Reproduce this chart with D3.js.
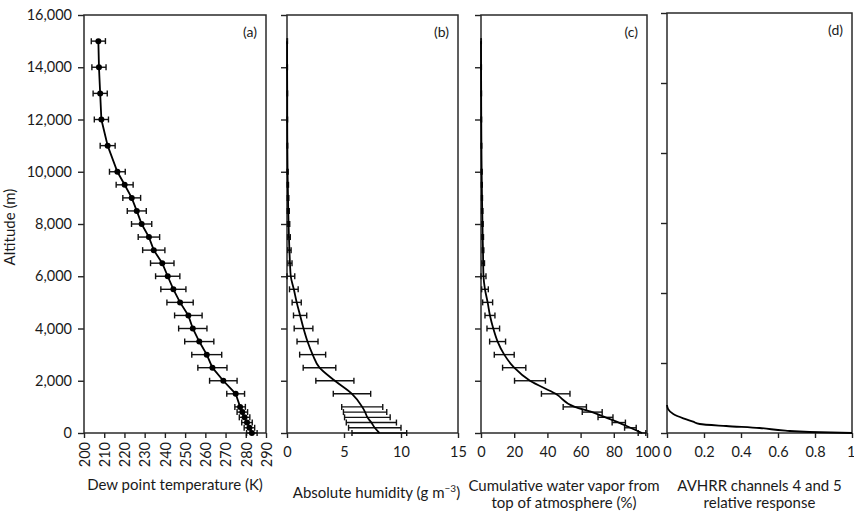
<!DOCTYPE html>
<html>
<head>
<meta charset="utf-8">
<script src="https://cdn.jsdelivr.net/npm/d3@7/dist/d3.min.js"></script>
<style>
    body { margin: 0; background: #fff; }
    svg text { font-family: Lato, "Open Sans", sans-serif; fill: #1a1a1a; }
</style>
</head>
<body>
<div id="chart"></div>
<script>
// altitude levels of the profile (m), shared by panels a, b, c
const altitudes = [15000, 14000, 13000, 12000, 11000, 10000, 9500, 9000, 8500, 8000, 7500, 7000,
    6500, 6000, 5500, 5000, 4500, 4000, 3500, 3000, 2500, 2000, 1500, 1000, 800, 600, 400, 200, 0];

// (a) dew point temperature (K) and error
const dewPoint = [207.1, 207.4, 208.0, 208.6, 211.7, 216.5, 220.1, 223.6, 226.1, 228.5, 232.1, 234.5,
    238.7, 241.4, 244.2, 247.5, 251.6, 253.8, 257.0, 260.7, 263.5, 268.9, 275.0, 277.2, 278.3, 279.4, 280.6, 281.8, 283.0];
const dewPointErr = [3.5, 3.5, 3.5, 3.5, 3.7, 3.9, 4.2, 4.4, 4.7, 5.0, 5.3, 5.5,
    5.8, 6.0, 6.2, 6.5, 6.8, 7.0, 7.2, 7.4, 7.2, 6.8, 4.4, 2.6, 2.6, 2.6, 2.6, 2.6, 2.6];

// (b) absolute humidity (g m-3) and error
const absHumidity = [0.01, 0.01, 0.02, 0.02, 0.03, 0.05, 0.07, 0.09, 0.11, 0.14, 0.17, 0.21,
    0.26, 0.33, 0.6, 0.85, 1.15, 1.45, 1.8, 2.25, 2.85, 4.2, 5.7, 6.6, 6.85, 7.05, 7.4, 7.7, 8.1];
const absHumidityErr = [0.03, 0.03, 0.03, 0.03, 0.03, 0.05, 0.06, 0.07, 0.09, 0.1, 0.12, 0.15,
    0.18, 0.35, 0.38, 0.4, 0.58, 0.82, 0.92, 1.14, 1.43, 1.67, 1.64, 1.8, 1.9, 2.0, 2.2, 2.3, 2.4];

// (c) cumulative water vapor from top of atmosphere (%) and error
const cumVapor = [0, 0.05, 0.1, 0.15, 0.25, 0.4, 0.5, 0.6, 0.75, 0.9, 1.0, 1.2,
    1.3, 1.5, 2.4, 4.0, 5.4, 7.4, 10, 14, 20, 29.5, 45, 56.5, 67, 75, 83, 90, 97];
const cumVaporErr = [0.2, 0.2, 0.2, 0.2, 0.2, 0.3, 0.3, 0.3, 0.4, 0.4, 0.5, 0.5,
    0.8, 1.5, 2, 3, 3, 3.8, 4.8, 6, 7, 9.3, 8.6, 7, 6, 4.5, 4, 3.5, 2.3];

// (d) AVHRR channels 4 and 5 relative response (own altitude axis)
const responseAlt = [800, 680, 543, 419, 324, 257, 200, 143, 66, 29, 0];
const response = [0, 0.006, 0.034, 0.088, 0.141, 0.177, 0.32, 0.5, 0.64, 0.77, 1.0];

// axis ticks
const altTicks = [0, 2000, 4000, 6000, 8000, 10000, 12000, 14000, 16000];
const respAltTicks = [0, 2000, 4000, 6000, 8000, 10000, 12000];
const dewTicks = [200, 210, 220, 230, 240, 250, 260, 270, 280, 290];
const absTicks = [0, 5, 10, 15];
const cumTicks = [0, 20, 40, 60, 80, 100];
const respTicks = [0, 0.2, 0.4, 0.6, 0.8, 1];

const width = 854, height = 512;
const tickFont = 14.5, titleFont = 15;

const svg = d3.select("#chart")
    .append("svg")
    .attr("width", width)
    .attr("height", height);

function drawPanel(p) {
    const x = d3.scaleLinear().domain(p.xDomain).range([p.left, p.right]);
    const y = d3.scaleLinear().domain(p.yDomain).range([p.bottom, p.top]);
    const g = svg.append("g");

    //y axis (ticks outside)
    const yAxisG = g.append("g")
        .attr("transform", `translate(${p.left},0)`)
        .call(d3.axisLeft(y)
            .tickValues(p.yTicks)
            .tickSize(6)
            .tickPadding(6)
            .tickFormat(p.yLabels ? d3.format(",") : () => ""));
    yAxisG.select(".domain").remove();
    yAxisG.selectAll("line").attr("stroke", "#222").attr("stroke-width", 1.4);
    yAxisG.selectAll("text").attr("font-size", tickFont);

    //x axis
    const xAxisG = g.append("g")
        .attr("transform", `translate(0,${p.bottom})`)
        .call(d3.axisBottom(x)
            .tickValues(p.xTicks)
            .tickSize(5)
            .tickPadding(9)
            .tickFormat(p.xFormat));
    xAxisG.select(".domain").remove();
    xAxisG.selectAll("line").attr("stroke", "#222").attr("stroke-width", 1.4);
    xAxisG.selectAll("text").attr("font-size", tickFont);
    if (p.rotateX) {
        xAxisG.selectAll("text")
            .attr("transform", "rotate(-90)")
            .attr("text-anchor", "end")
            .attr("x", -9)
            .attr("y", 0)
            .attr("dy", "0.36em");
    }
    if (p.lastLabelEnd) {
        //keep last label inside the page
        xAxisG.selectAll("text")
            .filter(d => d === p.xDomain[1])
            .attr("text-anchor", "end")
            .attr("dx", 3);
    }

    //frame
    g.append("rect")
        .attr("x", p.left)
        .attr("y", p.top)
        .attr("width", p.right - p.left)
        .attr("height", p.bottom - p.top)
        .attr("fill", "none")
        .attr("stroke", "#2a2a2a")
        .attr("stroke-width", 1.5);

    //panel letter
    g.append("text")
        .attr("x", p.right - 9)
        .attr("y", p.top + 22)
        .attr("text-anchor", "end")
        .attr("font-size", 14)
        .text(p.letter);

    //axis title
    p.title.forEach((t, i) => {
        const txt = g.append("text")
            .attr("x", (p.left + p.right) / 2 + (p.titleDx || 0))
            .attr("y", p.titleY + i * 17)
            .attr("text-anchor", "middle")
            .attr("font-size", titleFont);
        txt.append("tspan").text(t);
        if (p.sup && i === 0) {
            txt.append("tspan").attr("font-size", 10).attr("dy", -6).text(p.sup);
            txt.append("tspan").attr("dy", 6).text(")");
        }
    });

    const pts = p.yValues.map((v, i) => ({alt: v, val: p.xValues[i], err: p.errors ? p.errors[i] : 0}));

    //error bars
    if (p.errors) {
        const eb = g.append("g")
            .attr("stroke", "#111")
            .attr("stroke-width", 1.4)
            .selectAll("g")
            .data(pts)
            .enter()
            .append("g");
        eb.append("line")
            .attr("x1", d => x(Math.max(p.xDomain[0], d.val - d.err)))
            .attr("x2", d => x(d.val + d.err))
            .attr("y1", d => y(d.alt))
            .attr("y2", d => y(d.alt));
        eb.append("line")
            .attr("x1", d => x(Math.max(p.xDomain[0], d.val - d.err)))
            .attr("x2", d => x(Math.max(p.xDomain[0], d.val - d.err)))
            .attr("y1", d => y(d.alt) - 3)
            .attr("y2", d => y(d.alt) + 3);
        eb.append("line")
            .attr("x1", d => x(d.val + d.err))
            .attr("x2", d => x(d.val + d.err))
            .attr("y1", d => y(d.alt) - 3)
            .attr("y2", d => y(d.alt) + 3);
    }

    //profile line
    const line = d3.line()
        .x(d => x(d.val))
        .y(d => y(d.alt))
        .curve(p.curve);
    g.append("path")
        .datum(pts)
        .attr("d", line)
        .attr("fill", "none")
        .attr("stroke", "#000")
        .attr("stroke-width", 1.8);

    if (p.markers) {
        g.selectAll(".pt")
            .data(pts)
            .enter()
            .append("circle")
            .attr("cx", d => x(d.val))
            .attr("cy", d => y(d.alt))
            .attr("r", 3)
            .attr("fill", "#000");
    }
}

drawPanel({
    left: 84, right: 266, top: 15, bottom: 433,
    xDomain: [200, 290], xTicks: dewTicks, xFormat: d3.format("d"), rotateX: true,
    yDomain: [0, 16000], yTicks: altTicks, yLabels: true,
    xValues: dewPoint, yValues: altitudes, errors: dewPointErr,
    curve: d3.curveLinear, markers: true,
    letter: "(a)", title: ["Dew point temperature (K)"], titleY: 490
});

drawPanel({
    left: 287, right: 458, top: 15, bottom: 433,
    xDomain: [0, 15], xTicks: absTicks, xFormat: d3.format("d"),
    yDomain: [0, 16000], yTicks: altTicks, yLabels: false,
    xValues: absHumidity, yValues: altitudes, errors: absHumidityErr,
    curve: d3.curveMonotoneY, markers: false,
    letter: "(b)", title: ["Absolute humidity (g m"], sup: "\u22123", titleY: 498, titleDx: 4
});

drawPanel({
    left: 481, right: 647, top: 15, bottom: 433,
    xDomain: [0, 100], xTicks: cumTicks, xFormat: d3.format("d"),
    yDomain: [0, 16000], yTicks: altTicks, yLabels: false,
    xValues: cumVapor, yValues: altitudes, errors: cumVaporErr,
    curve: d3.curveMonotoneY, markers: false,
    letter: "(c)", title: ["Cumulative water vapor from", "top of atmosphere (%)"], titleY: 491
});

drawPanel({
    left: 667, right: 852, top: 13, bottom: 433,
    xDomain: [0, 1], xTicks: respTicks, lastLabelEnd: true,
    xFormat: d => (d === 0 || d === 1) ? d3.format("d")(d) : d3.format(".1f")(d),
    yDomain: [0, 12000], yTicks: respAltTicks, yLabels: false,
    xValues: response, yValues: responseAlt, errors: null,
    curve: d3.curveMonotoneY, markers: false,
    letter: "(d)", title: ["AVHRR channels 4 and 5", "relative response"], titleY: 491
});

//shared y axis title
svg.append("text")
    .attr("transform", "translate(15,227) rotate(-90)")
    .attr("text-anchor", "middle")
    .attr("font-size", titleFont)
    .text("Altitude (m)");
</script>
</body>
</html>
